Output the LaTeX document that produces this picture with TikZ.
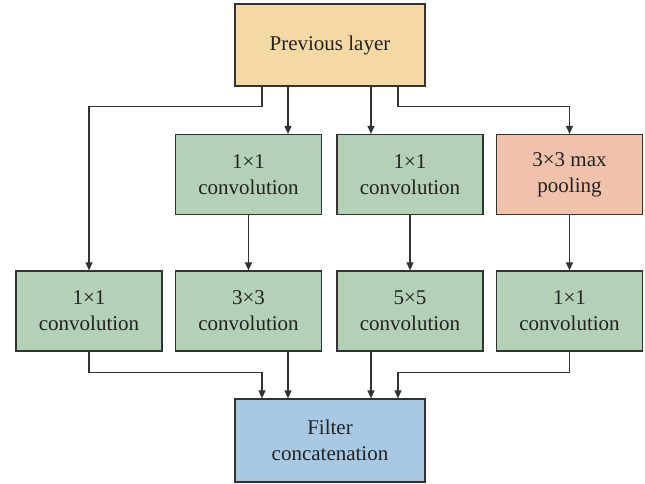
\documentclass[tikz,border=0pt]{standalone}
\usepackage{fontspec}
\setmainfont{Liberation Serif}
\usetikzlibrary{arrows.meta}
\definecolor{prevc}{HTML}{F5D9A4}
\definecolor{greenc}{HTML}{B3D1B7}
\definecolor{pinkc}{HTML}{F0C2AA}
\definecolor{bluec}{HTML}{A7C9E3}
\definecolor{linec}{HTML}{333333}
\definecolor{textc}{HTML}{222222}
\tikzset{
  box/.style={draw=linec, line width=1.2pt, minimum width=146pt, minimum height=80pt,
    inner sep=0pt, align=center, text=textc,
    font=\fontsize{21pt}{26pt}\selectfont},
  bigbox/.style={box, minimum width=190pt, minimum height=82pt},
  arr/.style={draw=linec, line width=1.2pt, -{Triangle[length=8pt,width=7pt]}},
  ln/.style={draw=linec, line width=1.2pt}
}
\begin{document}
\begin{tikzpicture}[x=1pt,y=-1pt]
\useasboundingbox (0,0) rectangle (645,483);
\node[bigbox, fill=prevc] (prev) at (330,45) {Previous layer};
\node[box, fill=greenc] (r1a) at (248.5,174.5) {1×1\\convolution};
\node[box, fill=greenc] (r1b) at (410,174.5) {1×1\\convolution};
\node[box, fill=pinkc] (r1c) at (569.5,174.5) {3×3 max\\pooling};
\node[box, fill=greenc] (r2a) at (89,311) {1×1\\convolution};
\node[box, fill=greenc] (r2b) at (248.5,311) {3×3\\convolution};
\node[box, fill=greenc] (r2c) at (410,311) {5×5\\convolution};
\node[box, fill=greenc] (r2d) at (569.5,311) {1×1\\convolution};
\node[bigbox, fill=bluec, minimum height=83pt] (cat) at (330,440.5) {Filter\\concatenation};
% from previous layer
\draw[arr] ([xshift=-68pt]prev.south) -- ++(0,-20pt) -| (r2a.north);
\draw[arr] ([xshift=-42pt]prev.south) -- ([xshift=-42pt]prev.south |- r1a.north);
\draw[arr] ([xshift=41pt]prev.south) -- ([xshift=41pt]prev.south |- r1b.north);
\draw[arr] ([xshift=68pt]prev.south) -- ++(0,-20pt) -| (r1c.north);
% row 1 to row 2
\draw[arr] (r1a.south) -- (r2b.north);
\draw[arr] (r1b.south) -- (r2c.north);
\draw[arr] (r1c.south) -- (r2d.north);
% to concatenation
\draw[arr] (r2a.south) -- ++(0,-21pt) -| ([xshift=-68pt]cat.north);
\draw[arr] ([xshift=-42pt]cat.north |- r2b.south) -- ([xshift=-42pt]cat.north);
\draw[arr] ([xshift=41pt]cat.north |- r2c.south) -- ([xshift=41pt]cat.north);
\draw[arr] (r2d.south) -- ++(0,-21pt) -| ([xshift=68pt]cat.north);
\end{tikzpicture}
\end{document}
